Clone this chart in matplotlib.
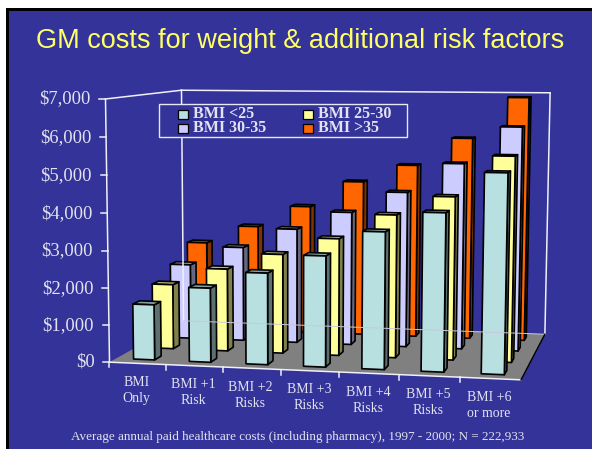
import numpy as np
import matplotlib
matplotlib.use("Agg")
import matplotlib.pyplot as plt
from matplotlib.patches import Polygon, Rectangle

categories = ["BMI\nOnly", "BMI +1\nRisk", "BMI +2\nRisks", "BMI +3\nRisks",
              "BMI +4\nRisks", "BMI +5\nRisks", "BMI +6\nor more"]
series_names = ["BMI <25", "BMI 25-30", "BMI 30-35", "BMI >35"]
bmi_under_25 = [1500, 2000, 2450, 2950, 3620, 4150, 5200]
bmi_25_30 = [1800, 2280, 2730, 3200, 3880, 4400, 5500]
bmi_30_35 = [2130, 2670, 3230, 3740, 4330, 5150, 6170]
bmi_over_35 = [2560, 3080, 3700, 4450, 4950, 5740, 6900]
y_ticks = [0, 1000, 2000, 3000, 4000, 5000, 6000, 7000]

series = [bmi_under_25, bmi_25_30, bmi_30_35, bmi_over_35]
colors = ["#B8E0E0", "#FFFF99", "#CCCCFF", "#FF6600"]
navy = "#333399"
txt = "#E2E2F0"

# box corners: (category, row, value) seen at pixel (px, py)
ref = [((0, 0, 0), (110, 361)), ((7, 0, 0), (521, 381)),
       ((0, 4, 0), (183, 322)), ((7, 4, 0), (545, 333)),
       ((0, 0, 7000), (105, 99)), ((0, 4, 7000), (182, 90)),
       ((7, 4, 7000), (550, 93))]
A = []
for (c, r, v), (px, py) in ref:
    w = [c, r, v / 1000, 1]
    A.append(w + [0, 0, 0, 0] + [-px * k for k in w])
    A.append([0, 0, 0, 0] + w + [-py * k for k in w])
P = np.linalg.svd(np.array(A))[2][-1].reshape(3, 4)


def proj(c, r, v):
    x, y, w = P @ np.array([c, r, v / 1000, 1])
    return x / w, y / w


def shade(col, f):
    return tuple(k * f for k in matplotlib.colors.to_rgb(col))


fig = plt.figure(figsize=(5.92, 4.49), dpi=100, facecolor="white")
ax = fig.add_axes([0, 0, 1, 1])
ax.set_xlim(0, 592)
ax.set_ylim(449, 0)
ax.axis("off")

ax.add_patch(Rectangle((9, 10), 583, 439, fc=navy, ec="none"))
ax.add_patch(Rectangle((6, 8), 3, 441, fc="black", ec="none"))
ax.add_patch(Rectangle((6, 8), 586, 2.5, fc="black", ec="none"))

ax.text(300, 41, "GM costs for weight & additional risk factors", color="#FFFF66",
        family="Liberation Sans", fontsize=19.5, ha="center", va="center")

# floor and walls
ax.add_patch(Polygon([proj(0, 0, 0), proj(7, 0, 0), proj(7, 4, 0), proj(0, 4, 0)],
                     fc="#808080", ec="none"))
wall = dict(color="#F0F0F8", lw=1.1)
for a, b in [((0, 0, 0), (0, 0, 7000)), ((0, 4, 0), (0, 4, 7000)), ((7, 4, 0), (7, 4, 7000)),
             ((0, 0, 7000), (0, 4, 7000)), ((0, 4, 7000), (7, 4, 7000)),
             ((0, 0, 0), (7, 0, 0))]:
    ax.plot(*zip(proj(*a), proj(*b)), **wall)
ax.plot(*zip(proj(0, 4, 0), proj(7, 4, 0)), color="#C8C8DC", lw=0.7)
ax.plot(*zip(proj(7, 0, 0), proj(7, 4, 0)), color="black", lw=1)

for v in y_ticks:
    x, y = proj(0, 0, v)
    ax.plot([x - 6, x], [y, y], **wall)
    ax.text(x - 15, y, f"${v:,}", color=txt, family="Liberation Serif", fontsize=13.4,
            ha="right", va="center")
for i, name in enumerate(categories):
    x, y = proj(i, 0, 0)
    ax.plot([x, x], [y, y + 5], **wall)
    x, y = proj(i + 0.5, 0, 0)
    ax.text(x - 1, y + 27, name, color=txt, family="Liberation Serif", fontsize=10,
            ha="center", va="center", linespacing=1.3)

bar_w, bar_d = 0.19, 0.17
for r in range(3, -1, -1):
    for c in range(6, -1, -1):
        v = series[r][c]
        x0, x1 = c + 0.5 - bar_w, c + 0.5 + bar_w
        y0, y1 = r + 0.5 - bar_d, r + 0.5 + bar_d
        col = colors[r]
        edge = dict(ec="black", lw=1.2, joinstyle="round")
        ax.add_patch(Polygon([proj(x1, y0, 0), proj(x1, y1, 0), proj(x1, y1, v), proj(x1, y0, v)],
                             fc=shade(col, 0.5), **edge))
        ax.add_patch(Polygon([proj(x0, y0, v), proj(x1, y0, v), proj(x1, y1, v), proj(x0, y1, v)],
                             fc=shade(col, 0.72), **edge))
        ax.add_patch(Polygon([proj(x0, y0, 0), proj(x1, y0, 0), proj(x1, y0, v), proj(x0, y0, v)],
                             fc=col, **edge))

# legend
ax.add_patch(Rectangle((159, 103.5), 248, 33.5, fc=navy, ec="#E8E8F4", lw=1, zorder=5))
pos = [(178, 114), (303, 114), (178, 128.5), (303, 128.5)]
for name, col, (x, y) in zip(series_names, colors, pos):
    ax.add_patch(Rectangle((x, y - 4.5), 10, 9, fc=col, ec="black", lw=0.9, zorder=6))
    ax.text(x + 15, y, name, color=txt, family="Liberation Serif", fontsize=11.5,
            weight="bold", va="center", zorder=6)

ax.text(298, 437, "Average annual paid healthcare costs (including pharmacy), 1997 - 2000; N = 222,933",
        color=txt, family="Liberation Serif", fontsize=9.45, ha="center", va="center")

fig.savefig("out.png", dpi=100, facecolor="white")
